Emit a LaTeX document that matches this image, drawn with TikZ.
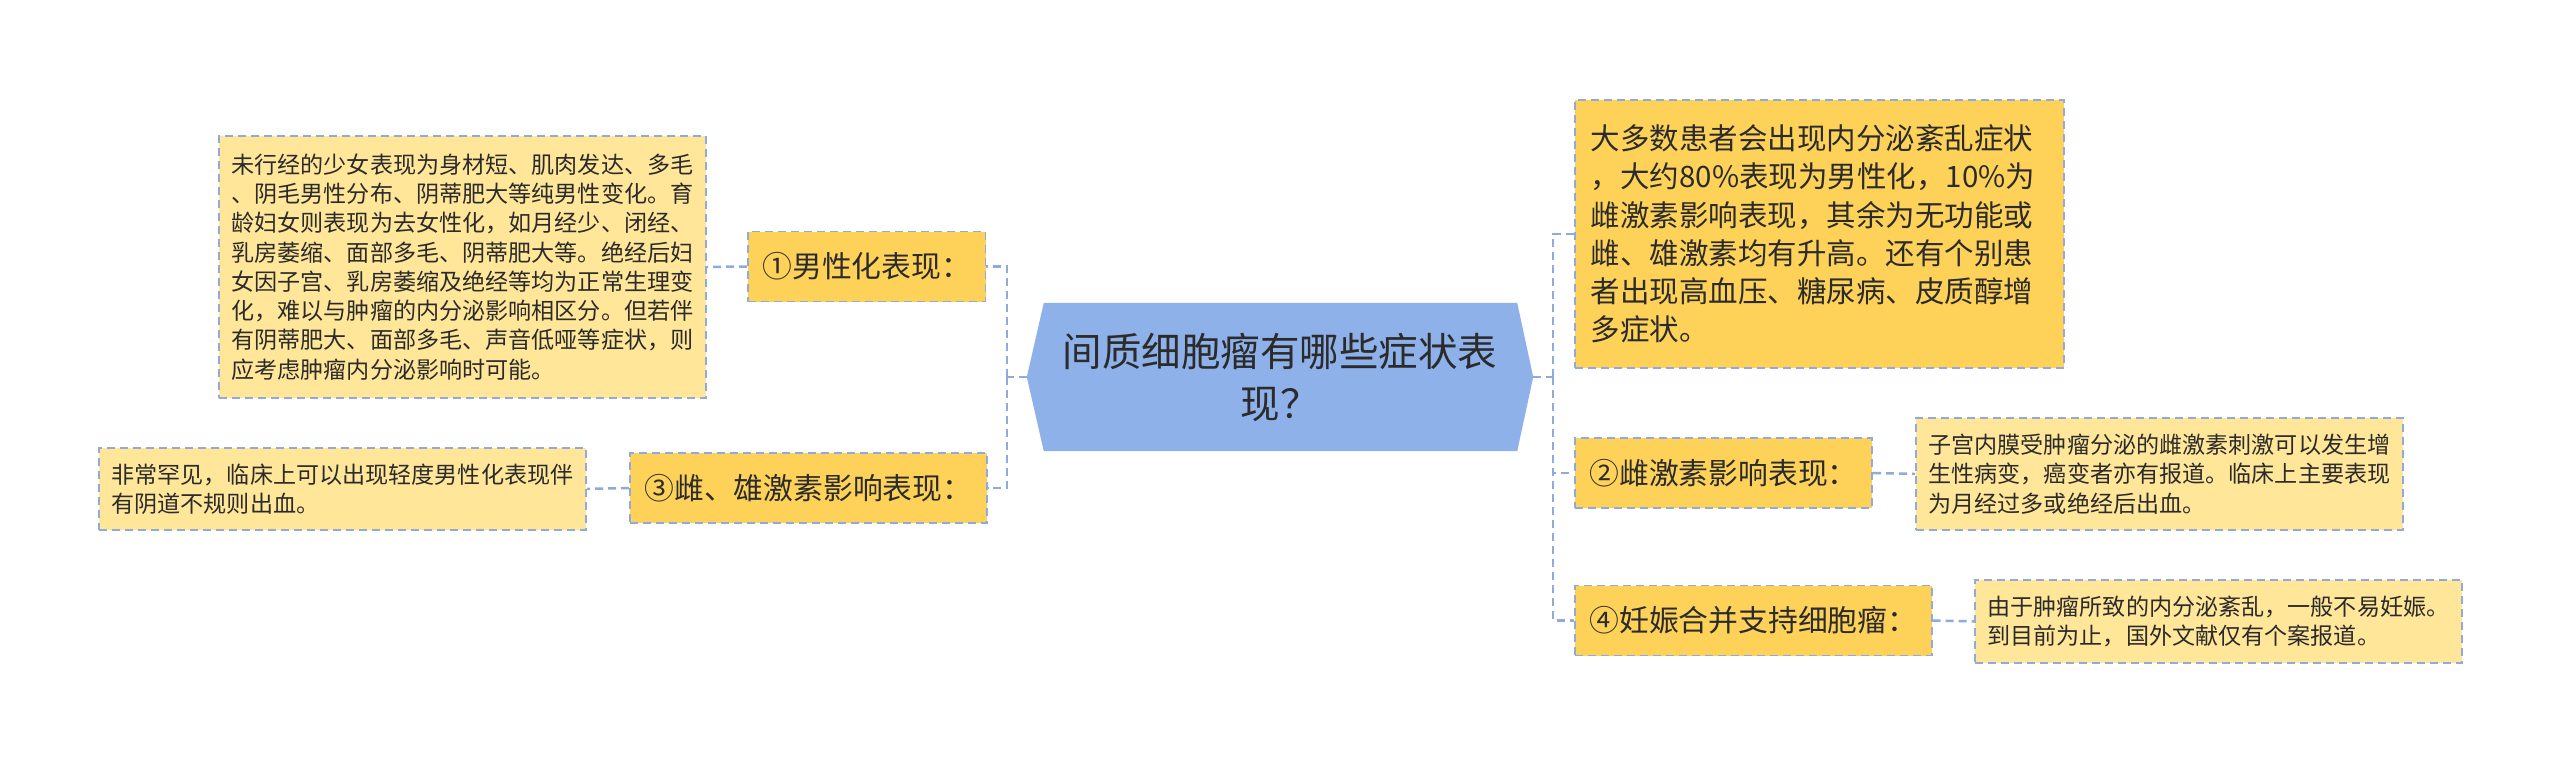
\documentclass[tikz,border=0pt]{standalone}
\usepackage{fontspec}
\newfontfamily\cjk{Noto Sans CJK SC}
\usetikzlibrary{backgrounds}
\definecolor{lineblue}{HTML}{8EABDB}
\definecolor{lvone}{HTML}{FED258}
\definecolor{lvtwo}{HTML}{FFE699}
\definecolor{rootfill}{HTML}{8EB1EA}
\definecolor{txt}{HTML}{2B2B2B}
\tikzset{
  border/.style={draw=lineblue, line width=1.8pt, dash pattern=on 8pt off 5pt},
  topic/.style={border, fill=lvone, text=txt, font=\cjk\fontsize{29.8}{38.3}\selectfont,
    inner xsep=14.5pt, inner ysep=0pt, minimum height=70pt, anchor=west},
  detail/.style={border, fill=lvtwo, text=txt, font=\cjk\fontsize{23.1}{29.3}\selectfont,
    inner xsep=12.5pt, inner ysep=0pt, text width=462pt, align=left, anchor=north west},
  conn/.style={draw=lineblue, line width=2.5pt, dash pattern=on 8pt off 5pt},
}
\begin{document}
\begin{tikzpicture}[x=1pt,y=-1pt]
\useasboundingbox (0,0) rectangle (2560,761);

% root
\node[font=\cjk\fontsize{39.5}{52}\selectfont, text=txt, align=center,
      minimum width=506pt, minimum height=148pt, inner sep=0pt] (c) at (1280,377)
      {间质细胞瘤有哪些症状表\\现？};

% left topics
\node[topic] (n1) at (747,266.5) {①男性化表现：};
\node[topic] (n3) at (629,488) {③雌、雄激素影响表现：};

% right topics
\node[topic, anchor=north west, text width=457pt, inner xsep=16pt, align=left,
      font=\cjk\fontsize{29.5}{38.3}\selectfont, minimum height=268pt] (n0) at (1574,99)
  {大多数患者会出现内分泌紊乱症状\\
   ，大约80\%表现为男性化，10\%为\\
   雌激素影响表现，其余为无功能或\\
   雌、雄激素均有升高。还有个别患\\
   者出现高血压、糖尿病、皮质醇增\\
   多症状。};
\node[topic] (n2) at (1574,473) {②雌激素影响表现：};
\node[topic] (n4) at (1574,620.5) {④妊娠合并支持细胞瘤：};

% details
\node[detail, minimum height=262pt] (d1) at (218,135)
  {未行经的少女表现为身材短、肌肉发达、多毛\\
   、阴毛男性分布、阴蒂肥大等纯男性变化。育\\
   龄妇女则表现为去女性化，如月经少、闭经、\\
   乳房萎缩、面部多毛、阴蒂肥大等。绝经后妇\\
   女因子宫、乳房萎缩及绝经等均为正常生理变\\
   化，难以与肿瘤的内分泌影响相区分。但若伴\\
   有阴蒂肥大、面部多毛、声音低哑等症状，则\\
   应考虑肿瘤内分泌影响时可能。};
\node[detail, minimum height=82pt] (d3) at (98,447)
  {非常罕见，临床上可以出现轻度男性化表现伴\\
   有阴道不规则出血。};
\node[detail, minimum height=112pt] (d2) at (1915,417)
  {子宫内膜受肿瘤分泌的雌激素刺激可以发生增\\
   生性病变，癌变者亦有报道。临床上主要表现\\
   为月经过多或绝经后出血。};
\node[detail, minimum height=83pt] (d4) at (1974,579)
  {由于肿瘤所致的内分泌紊乱，一般不易妊娠。\\
   到目前为止，国外文献仅有个案报道。};

\coordinate (jl) at (1007,377);
\coordinate (jr) at (1553,377);

\begin{scope}[on background layer]
  \fill[white] (0,0) rectangle (2560,761);
  \fill[rootfill] (c.west) -- ([xshift=17pt]c.north west) -- ([xshift=-16pt]c.north east)
     -- (c.east) -- ([xshift=-16pt]c.south east) -- ([xshift=17pt]c.south west) -- cycle;
  \draw[conn] (c.west) -- (jl);
  \draw[conn] (jl) |- (n1.east);
  \draw[conn] (jl) |- (n3.east);
  \draw[conn] (c.east) -- (jr);
  \draw[conn] (jr) |- (n0.west);
  \draw[conn] (jr) |- (n2.west);
  \draw[conn] (jr) |- (n4.west);
  \draw[conn] (n1.west) -- (d1.east);
  \draw[conn] (n3.west) -- (d3.east);
  \draw[conn] (n2.east) -- (d2.west);
  \draw[conn] (n4.east) -- (d4.west);
\end{scope}
\end{tikzpicture}
\end{document}
